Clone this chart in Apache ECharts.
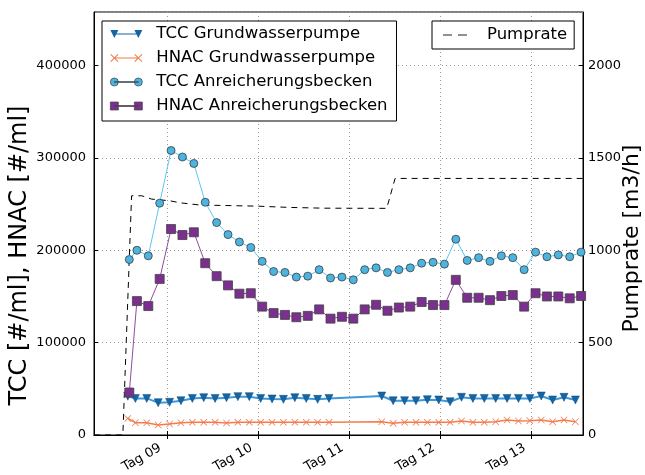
<!DOCTYPE html>
<html>
<head>
<meta charset="utf-8">
<script src="https://cdn.jsdelivr.net/npm/echarts@6/dist/echarts.min.js"></script>
<style>
  html, body { margin: 0; padding: 0; background: #fff; }
  #chart { width: 645px; height: 475px; }
</style>
</head>
<body>
<div id="chart"></div>
<script>
// Zeit in Stunden ab Tag 08 00:00
var abHours = [14, 16, 19, 22, 25, 28, 31, 34, 37, 40, 43, 46, 49, 52, 55, 58, 61, 64, 67, 70,
  73, 76, 79, 82, 85, 88, 91, 94, 97, 100, 103, 106, 109, 112, 115, 118, 121, 124, 127, 130, 133];
var tccAB = [190000, 200000, 194000, 251000, 308000, 301000, 294000, 252000, 230000, 217000,
  209000, 203000, 188000, 177000, 176000, 171000, 172000, 179000, 170000, 171000,
  168000, 179000, 181000, 176000, 179000, 181000, 186000, 187000, 185000, 212000,
  189000, 192000, 188000, 194000, 192000, 179000, 198000, 193000, 195000, 193000, 198000];
var hnacAB = [46000, 145000, 139600, 169000, 223000, 216500, 219500, 186000, 172000, 162000,
  153000, 153500, 139000, 132000, 130000, 127500, 129000, 136000, 126000, 128000,
  126000, 136000, 141000, 134500, 138000, 139000, 144000, 140700, 140700, 168000,
  148600, 148600, 146000, 150500, 151500, 139000, 153500, 150000, 150000, 148000, 150500];

var gwHours = [13.6, 15.6, 18.6, 21.6, 24.6, 27.6, 30.6, 33.6, 36.6, 39.6, 42.6, 45.6, 48.6,
  51.6, 54.6, 57.6, 60.6, 63.6, 66.6,
  80.5, 83.5, 86.5, 89.5, 92.5, 95.5, 98.5, 101.5, 104.5, 107.5, 110.5, 113.5, 116.5,
  119.5, 122.5, 125.5, 128.5, 131.5];
var tccGW = [42000, 39600, 39600, 35000, 35400, 37100, 39600, 40400, 39600, 40400, 41500,
  41500, 39600, 39000, 38600, 40400, 39600, 38600, 39600,
  42200, 37100, 37100, 37100, 38200, 37900, 36000, 40800, 39600, 39600, 39600, 39600,
  39600, 39600, 42200, 37900, 40800, 37900];
var hnacGW = [18000, 13300, 13300, 10800, 11900, 13300, 13700, 13700, 13700, 13000, 13700,
  13700, 13700, 13700, 13700, 13700, 13700, 13700, 13700,
  14400, 12600, 13700, 13700, 13700, 13700, 13700, 15100, 13700, 13700, 14400, 16200,
  15100, 15500, 16200, 14400, 16200, 14400];

var pumpHours = [4.7, 12.3, 14.6, 17.3, 19.9, 24.7, 27.4, 32.6, 47.6, 56.3, 65.0, 81.8, 84.0, 133.5];
var pumpRate = [0, 0, 1295, 1295, 1277, 1268, 1257, 1245, 1239, 1232, 1228, 1227, 1389, 1389];

var dayTicks = [24, 48, 72, 96, 120];
var dayLabels = ['Tag 09', 'Tag 10', 'Tag 11', 'Tag 12', 'Tag 13'];

function zip(xs, ys) {
  return xs.map(function (x, i) { return [x, ys[i]]; });
}

// Symbole wie bei matplotlib
var xMark = 'path://M0,0.8L0.8,0L5,4.2L9.2,0L10,0.8L5.8,5L10,9.2L9.2,10L5,5.8L0.8,10L0,9.2L4.2,5Z';
var lineBar = 'M4,3.5H28V4.5H4Z';
var iconTri = 'path://M0,0H8L4,8ZM24,0H32L28,8Z' + lineBar;
var iconX = 'path://M0,0.7L0.7,0L4,3.3L7.3,0L8,0.7L4.7,4L8,7.3L7.3,8L4,4.7L0.7,8L0,7.3L3.3,4Z' +
  'M24,0.7L24.7,0L28,3.3L31.3,0L32,0.7L28.7,4L32,7.3L31.3,8L28,4.7L24.7,8L24,7.3L27.3,4Z' + lineBar;
var iconCirc = 'path://M0,4A4,4 0 1 1 8,4A4,4 0 1 1 0,4ZM24,4A4,4 0 1 1 32,4A4,4 0 1 1 24,4Z' + lineBar;
var iconRect = 'path://M0,0H8V8H0ZM24,0H32V8H24Z' + lineBar;
var iconDash = 'path://M0,0H9V1H0ZM15,0H24V1H15Z';

var font = 'DejaVu Sans';
var grid = { color: '#999', type: [1, 3], width: 1 };
var plain = function (v) { return String(v); };

var chart = echarts.init(document.getElementById('chart'));
chart.setOption({
  animation: false,
  textStyle: { fontFamily: font },
  grid: {
    left: 94, right: 62, top: 12, bottom: 40, show: true, borderColor: '#000', borderWidth: 1,
    containLabel: false, outerBoundsMode: 'none'
  },
  legend: [
    {
      orient: 'vertical', left: 102, top: 21,
      backgroundColor: '#fff', borderColor: '#000', borderWidth: 1, borderRadius: 0,
      padding: [3, 9, 5, 8], itemGap: 4, itemWidth: 32, itemHeight: 8,
      itemStyle: { borderWidth: 0 },
      textStyle: { fontSize: 16.5, color: '#000', fontFamily: font, lineHeight: 20, padding: [0, 0, 0, 9] },
      data: [
        { name: 'TCC Grundwasserpumpe', icon: iconTri, itemStyle: { color: '#1565a5', borderWidth: 0 } },
        { name: 'HNAC Grundwasserpumpe', icon: iconX, itemStyle: { color: '#f27c4e', borderWidth: 0 } },
        { name: 'TCC Anreicherungsbecken', icon: iconCirc, itemStyle: { color: '#4cb4e0', borderColor: '#444', borderWidth: 0.7 } },
        { name: 'HNAC Anreicherungsbecken', icon: iconRect, itemStyle: { color: '#7b2f8e', borderColor: '#444', borderWidth: 0.7 } }
      ]
    },
    {
      left: 432, top: 21,
      backgroundColor: '#fff', borderColor: '#000', borderWidth: 1, borderRadius: 0,
      padding: [4, 7, 4, 11], itemWidth: 24, itemHeight: 1,
      textStyle: { fontSize: 16.5, color: '#000', fontFamily: font, lineHeight: 20, padding: [0, 0, 0, 15] },
      data: [{ name: 'Pumprate', icon: iconDash, itemStyle: { color: '#222', borderWidth: 0 } }]
    }
  ],
  xAxis: [
    {
      type: 'value', min: 4.7, max: 133.5, position: 'bottom',
      axisLine: { show: true, lineStyle: { color: '#000' } },
      axisTick: { show: true, inside: true, length: 4, customValues: dayTicks, lineStyle: { color: '#000' } },
      axisLabel: {
        customValues: dayTicks, rotate: 30, fontSize: 13, color: '#000', margin: 8,
        padding: [0, 8, 0, 0],
        formatter: function (v) { return dayLabels[dayTicks.indexOf(v)]; }
      },
      splitLine: { show: true, lineStyle: grid }
    },
    {
      type: 'value', min: 4.7, max: 133.5, position: 'top',
      axisLine: { show: true, lineStyle: { color: '#000' } },
      axisTick: { show: true, inside: true, length: 4, customValues: dayTicks, lineStyle: { color: '#000' } },
      axisLabel: { show: false },
      splitLine: { show: false }
    }
  ],
  yAxis: [
    {
      type: 'value', min: 0, max: 458000, interval: 100000,
      name: 'TCC [#/ml], HNAC [#/ml]', nameLocation: 'middle', nameGap: 62, nameRotate: 90,
      nameMoveOverlap: false,
      nameTextStyle: { fontSize: 24, color: '#000', padding: [0, 64, 0, 0] },
      axisLine: { show: true, lineStyle: { color: '#000' } },
      axisTick: { show: true, inside: true, length: 4, lineStyle: { color: '#000' } },
      axisLabel: { fontSize: 13, color: '#000', margin: 8, showMaxLabel: false, formatter: plain },
      splitLine: { show: true, lineStyle: grid }
    },
    {
      type: 'value', min: 0, max: 2290, interval: 500, position: 'right',
      name: 'Pumprate [m3/h]', nameLocation: 'middle', nameGap: 38, nameRotate: 90,
      nameMoveOverlap: false,
      nameTextStyle: { fontSize: 22, color: '#000', padding: [0, 30, 0, 0] },
      axisLine: { show: true, lineStyle: { color: '#000' } },
      axisTick: { show: true, inside: true, length: 4, lineStyle: { color: '#000' } },
      axisLabel: { fontSize: 13, color: '#000', margin: 5, showMaxLabel: false, formatter: plain },
      splitLine: { show: false }
    }
  ],
  series: [
    {
      name: 'TCC Grundwasserpumpe', type: 'line', data: zip(gwHours, tccGW),
      symbol: 'triangle', symbolRotate: 180, symbolSize: 8,
      itemStyle: { color: '#1565a5', borderColor: '#0a4a7c', borderWidth: 0.5 },
      lineStyle: { color: '#3f98da', width: 2 }
    },
    {
      name: 'HNAC Grundwasserpumpe', type: 'line', data: zip(gwHours, hnacGW),
      symbol: xMark, symbolSize: 7,
      itemStyle: { color: '#f27c4e' },
      lineStyle: { color: '#f27c4e', width: 1.5 }
    },
    {
      name: 'TCC Anreicherungsbecken', type: 'line', data: zip(abHours, tccAB),
      symbol: 'circle', symbolSize: 8,
      itemStyle: { color: '#4cb4e0', borderColor: '#3c3c3c', borderWidth: 0.8 },
      lineStyle: { color: '#5ec6ef', width: 1 }
    },
    {
      name: 'HNAC Anreicherungsbecken', type: 'line', data: zip(abHours, hnacAB),
      symbol: 'rect', symbolSize: 9,
      itemStyle: { color: '#7b2f8e', borderColor: '#444', borderWidth: 0.8 },
      lineStyle: { color: '#8c4c9e', width: 1 }
    },
    {
      name: 'Pumprate', type: 'line', yAxisIndex: 1, data: zip(pumpHours, pumpRate),
      symbol: 'none',
      itemStyle: { color: '#000' },
      lineStyle: { color: '#000', width: 1, type: [6, 5] }
    }
  ]
});
</script>
</body>
</html>
